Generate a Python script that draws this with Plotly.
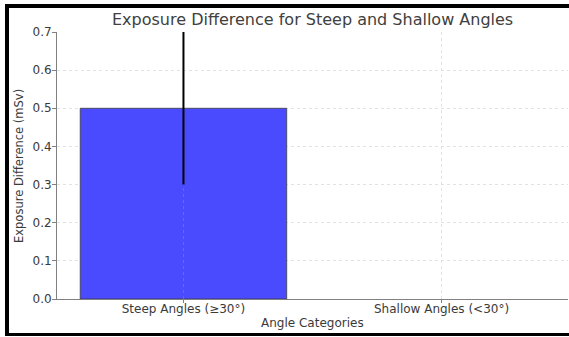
import plotly.graph_objects as go

# Data
categories = ["Steep Angles (≥30°)", "Shallow Angles (<30°)"]
exposure_diff = [0.5, 0.0]
exposure_err = [0.2, 0.0]
y_ticks = [0.0, 0.1, 0.2, 0.3, 0.4, 0.5, 0.6, 0.7]

W, H = 569, 337
L, R, T, B = 57, 1, 32, 38
PW, PH = W - L - R, H - T - B


def px_x(px):
    return (px - L) / PW


def px_y(py):
    return (H - B - py) / PH


FONT = "DejaVu Sans"
TXT = "#3a3a3a"

fig = go.Figure()
fig.add_trace(go.Bar(
    x=categories,
    y=exposure_diff,
    width=0.8,
    marker=dict(color="rgb(74,74,255)",
                line=dict(color="rgba(60,60,60,0.8)",
                          width=[1 if v > 0 else 0 for v in exposure_diff])),
    error_y=dict(type="data", array=exposure_err, visible=True,
                 color="black", thickness=2, width=0),
    showlegend=False,
))

grid = dict(showgrid=True, gridcolor="#e2e2e2", griddash="dot", gridwidth=1)

fig.update_layout(
    width=W, height=H,
    margin=dict(l=L, r=R, t=T, b=B),
    paper_bgcolor="white", plot_bgcolor="white",
    font=dict(family=FONT, size=12, color=TXT),
    xaxis=dict(
        range=[-0.49, 1.49], **grid,
        showline=True, linecolor="#808080", linewidth=1,
        ticks="outside", ticklen=3, tickcolor="#808080",
        tickfont=dict(size=12, color=TXT), ticklabelstandoff=-4,
    ),
    yaxis=dict(
        range=[0, 0.7], tickvals=y_ticks,
        ticktext=[f"{v:.1f}" for v in y_ticks], **grid,
        showline=True, linecolor="#808080", linewidth=1,
        ticks="outside", ticklen=4, tickcolor="#808080",
        tickfont=dict(size=12, color=TXT), zeroline=False,
        ticklabelstandoff=-2,
    ),
    bargap=0.2,
)

# faint category gridline showing through the bar below the error bar
for c, v, e in zip(categories, exposure_diff, exposure_err):
    if v > 0:
        fig.add_shape(type="line", xref="x", yref="y", x0=c, x1=c,
                      y0=0, y1=v - e,
                      line=dict(color="rgba(150,150,150,0.45)", width=1, dash="dot"),
                      layer="above")

# title and axis labels
fig.add_annotation(text="Exposure Difference for Steep and Shallow Angles",
                   xref="paper", yref="paper", x=0.5, y=px_y(20),
                   xanchor="center", yanchor="middle", showarrow=False,
                   font=dict(family=FONT, size=16, color="#404040"))
fig.add_annotation(text="Angle Categories",
                   xref="paper", yref="paper", x=0.5, y=px_y(323),
                   xanchor="center", yanchor="middle", showarrow=False,
                   font=dict(family=FONT, size=12, color=TXT))
fig.add_annotation(text="Exposure Difference (mSv)", textangle=-90,
                   xref="paper", yref="paper", x=px_x(19), y=px_y(166),
                   xanchor="center", yanchor="middle", showarrow=False,
                   font=dict(family=FONT, size=11.5, color=TXT))

# black outer frame
frame = dict(color="black", width=4)
fig.add_shape(type="line", xref="paper", yref="paper",
              x0=px_x(5), x1=px_x(575), y0=px_y(6), y1=px_y(6), line=frame)
fig.add_shape(type="line", xref="paper", yref="paper",
              x0=px_x(7), x1=px_x(7), y0=px_y(4), y1=px_y(336), line=frame)
fig.add_shape(type="line", xref="paper", yref="paper",
              x0=px_x(5), x1=px_x(575), y0=px_y(334.5), y1=px_y(334.5),
              line=dict(color="black", width=3))

fig.write_html("out.html")
